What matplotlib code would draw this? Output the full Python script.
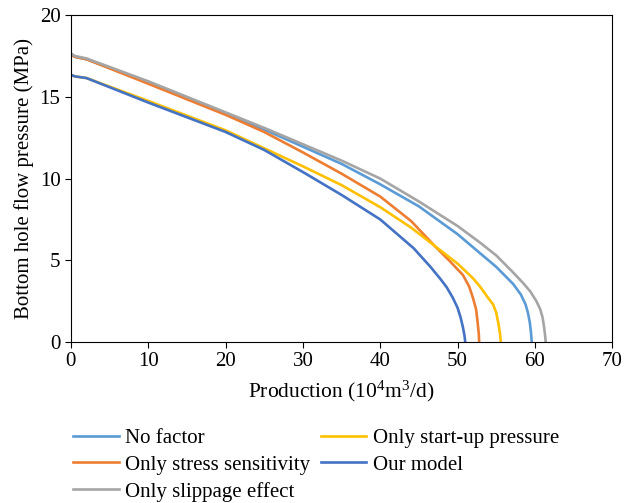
import matplotlib
matplotlib.use("Agg")
import matplotlib.pyplot as plt

plt.rcParams['font.family'] = ['Liberation Serif', 'DejaVu Serif']
plt.rcParams['mathtext.fontset'] = 'custom'
plt.rcParams['mathtext.rm'] = 'Liberation Serif'
plt.rcParams['mathtext.it'] = 'Liberation Serif:italic'

# curves (production, pressure)
no_factor_x = [0, 0.5, 2, 10, 20, 25, 30, 35, 40, 45, 50, 53, 55, 57.2, 58.2, 58.8, 59.1, 59.35, 59.5, 59.6]
no_factor_y = [17.6, 17.45, 17.3, 15.9, 14.0, 13.0, 11.95, 10.9, 9.65, 8.3, 6.6, 5.4, 4.6, 3.55, 2.9, 2.3, 1.8, 1.2, 0.6, 0]

stress_x = [0, 0.5, 2, 10, 20, 25, 30, 35, 40, 44, 47, 49, 50.7, 51.5, 52.0, 52.4, 52.6, 52.75, 52.8]
stress_y = [17.6, 17.45, 17.3, 15.8, 13.9, 12.85, 11.6, 10.3, 8.9, 7.4, 5.9, 4.95, 4.1, 3.4, 2.7, 2.0, 1.2, 0.5, 0]

slippage_x = [0, 0.5, 2, 10, 20, 25, 30, 35, 40, 45, 50, 53, 55, 57, 58.5, 59.4, 60.2, 60.7, 61.0, 61.2, 61.35, 61.4]
slippage_y = [17.65, 17.5, 17.35, 15.95, 14.05, 13.1, 12.1, 11.1, 10.0, 8.6, 7.1, 6.05, 5.3, 4.35, 3.6, 3.1, 2.5, 2.0, 1.5, 0.9, 0.3, 0]

startup_x = [0, 0.5, 2, 10, 20, 25, 30, 35, 40, 44, 47, 50, 52, 52.9, 53.8, 54.6, 55.0, 55.3, 55.5, 55.6]
startup_y = [16.35, 16.25, 16.15, 14.75, 12.95, 11.85, 10.75, 9.6, 8.25, 7.0, 5.9, 4.8, 3.9, 3.4, 2.8, 2.3, 1.8, 1.1, 0.5, 0]

model_x = [0, 0.5, 2, 10, 20, 25, 30, 35, 40, 44.3, 46.5, 47.8, 48.6, 49.4, 50.0, 50.4, 50.7, 50.9, 51.0]
model_y = [16.35, 16.25, 16.15, 14.65, 12.85, 11.75, 10.4, 9.0, 7.5, 5.75, 4.6, 3.85, 3.35, 2.7, 2.1, 1.5, 0.9, 0.4, 0]

fig = plt.figure(figsize=(6.39, 5.03), dpi=100)
ax = fig.add_axes([0.111, 0.320, 0.847, 0.650])

ax.plot(no_factor_x, no_factor_y, color='#5B9BD5', lw=1.9, label='No factor')
ax.plot(stress_x, stress_y, color='#ED7D31', lw=1.9, label='Only stress sensitivity')
ax.plot(slippage_x, slippage_y, color='#A5A5A5', lw=1.9, label='Only slippage effect')
ax.plot(startup_x, startup_y, color='#FFC000', lw=1.9, label='Only start-up pressure')
ax.plot(model_x, model_y, color='#4472C4', lw=1.9, label='Our model')

ax.set_xlim(0, 70)
ax.set_ylim(0, 20)
ax.set_xticks(range(0, 71, 10))
ax.set_yticks(range(0, 21, 5))
ax.tick_params(direction='out', labelsize=15, length=4)
ax.set_xlabel('Production (10$^{4}$m$^{3}$/d)', fontsize=15.5, labelpad=5)
ax.set_ylabel('Bottom hole flow pressure (MPa)', fontsize=15)

fig.legend(loc='upper left', bbox_to_anchor=(0.098, 0.169), ncol=2,
           frameon=False, fontsize=15, handlelength=2.2, handletextpad=0.3,
           columnspacing=0.5, labelspacing=0.34, borderpad=0,
           bbox_transform=fig.transFigure)

fig.savefig('out.png', dpi=100)
